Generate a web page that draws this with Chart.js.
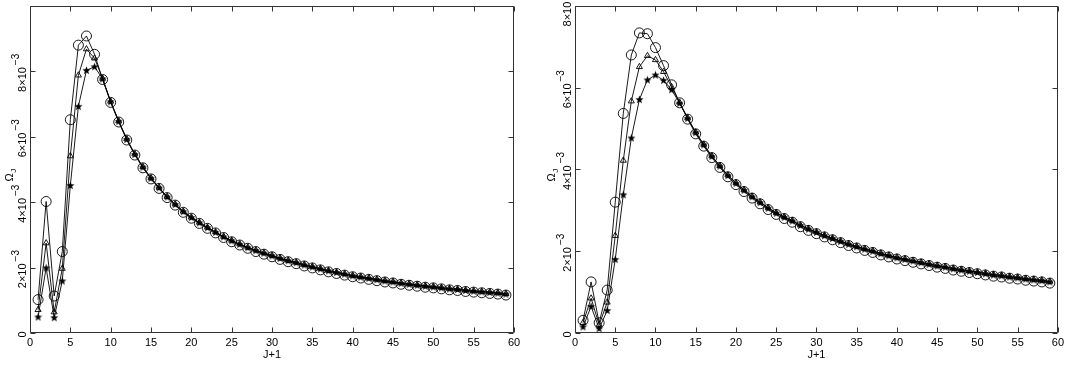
<!DOCTYPE html>
<html><head><meta charset="utf-8">
<script src="https://cdn.jsdelivr.net/npm/chart.js@4.4.1/dist/chart.umd.min.js"></script>
<style>
html,body{margin:0;padding:0;background:#fff;width:1067px;height:368px;overflow:hidden}
.p{position:absolute;top:0}
canvas{display:block}
</style></head><body>
<div class="p" style="left:0;width:540px;height:368px"><canvas id="c1" width="540" height="368"></canvas></div>
<div class="p" style="left:540px;width:527px;height:368px"><canvas id="c2" width="527" height="368"></canvas></div>
<script>
// x values: J+1
const jPlusOne = [1,2,3,4,5,6,7,8,9,10,11,12,13,14,15,16,17,18,19,20,21,22,23,24,25,26,27,28,29,30,
  31,32,33,34,35,36,37,38,39,40,41,42,43,44,45,46,47,48,49,50,51,52,53,54,55,56,57,58,59];

// Omega_J in units of 1e-3 — left panel
const leftCircles = [1.02,4.02,1.13,2.49,6.52,8.80,9.08,8.52,7.75,7.05,
  6.45,5.90,5.44,5.05,4.71,4.42,4.14,3.91,3.69,3.51,
  3.35,3.20,3.06,2.92,2.79,2.69,2.59,2.49,2.41,2.33,
  2.25,2.18,2.12,2.05,1.99,1.93,1.87,1.82,1.77,1.72,
  1.68,1.64,1.60,1.56,1.53,1.49,1.46,1.43,1.40,1.38,
  1.35,1.32,1.30,1.27,1.25,1.23,1.21,1.19,1.16];
const leftTriangles = [0.71,2.75,0.64,1.97,5.41,7.88,8.68,8.40,7.78,7.08,
  6.48,5.93,5.47,5.08,4.74,4.45,4.17,3.94,3.72,3.54,
  3.38,3.23,3.09,2.95,2.83,2.72,2.62,2.53,2.45,2.37,
  2.29,2.22,2.16,2.09,2.03,1.97,1.91,1.86,1.81,1.76,
  1.72,1.68,1.64,1.60,1.57,1.53,1.50,1.47,1.44,1.42,
  1.39,1.36,1.34,1.31,1.29,1.27,1.25,1.23,1.20];
const leftStars = [0.49,1.99,0.47,1.59,4.51,6.93,8.03,8.14,7.77,7.07,
  6.47,5.92,5.46,5.07,4.73,4.44,4.16,3.93,3.71,3.53,
  3.37,3.22,3.08,2.94,2.82,2.71,2.61,2.52,2.44,2.36,
  2.28,2.21,2.15,2.08,2.02,1.96,1.90,1.85,1.80,1.75,
  1.71,1.67,1.63,1.59,1.56,1.52,1.49,1.46,1.43,1.41,
  1.38,1.35,1.33,1.30,1.28,1.26,1.24,1.22,1.19];

// right panel
const rightCircles = [0.31,1.25,0.25,1.05,3.20,5.37,6.80,7.34,7.32,6.98,
  6.54,6.07,5.63,5.23,4.87,4.57,4.29,4.05,3.82,3.63,
  3.46,3.30,3.16,3.02,2.90,2.80,2.71,2.60,2.51,2.43,
  2.35,2.28,2.21,2.14,2.08,2.02,1.97,1.91,1.86,1.81,
  1.77,1.73,1.69,1.65,1.61,1.58,1.54,1.51,1.48,1.45,
  1.42,1.39,1.37,1.34,1.32,1.29,1.27,1.25,1.22];
const rightTriangles = [0.25,0.85,0.20,0.75,2.38,4.22,5.67,6.51,6.78,6.68,
  6.39,6.02,5.64,5.26,4.91,4.61,4.33,4.09,3.86,3.67,
  3.50,3.34,3.20,3.06,2.94,2.84,2.75,2.64,2.55,2.47,
  2.39,2.32,2.25,2.18,2.12,2.06,2.01,1.95,1.90,1.85,
  1.81,1.77,1.73,1.69,1.65,1.62,1.58,1.55,1.52,1.49,
  1.46,1.43,1.41,1.38,1.36,1.33,1.31,1.29,1.26];
const rightStars = [0.15,0.65,0.11,0.55,1.80,3.38,4.77,5.71,6.19,6.31,
  6.18,5.95,5.62,5.25,4.90,4.60,4.32,4.08,3.85,3.66,
  3.49,3.33,3.19,3.05,2.93,2.83,2.74,2.63,2.54,2.46,
  2.38,2.31,2.24,2.17,2.11,2.05,2.00,1.94,1.89,1.84,
  1.80,1.76,1.72,1.68,1.64,1.61,1.57,1.54,1.51,1.48,
  1.45,1.42,1.40,1.37,1.35,1.32,1.30,1.28,1.25];

// ticks
const xTickValues = [0,5,10,15,20,25,30,35,40,45,50,55,60];
const leftYTickValues = [0,2,4,6,8,10];
const leftYTickLabels = ['0','2×10^−3','4×10^−3','6×10^−3','8×10^−3',''];
const rightYTickValues = [0,2,4,6,8];
const rightYTickLabels = ['0','2×10^−3','4×10^−3','6×10^−3','8×10^−3'];
const xTitle = 'J+1';
const yTitleMain = 'Ω';
const yTitleSub = 'J';

const FONT = '"Liberation Sans", Arial, Helvetica, sans-serif';

function makeStar(){
  const s = 9, c = document.createElement('canvas');
  c.width = s; c.height = s;
  const g = c.getContext('2d');
  g.fillStyle = '#000';
  g.beginPath();
  const R = 4.3, r = 1.8, cx = s/2, cy = s/2 + 0.3;
  for (let i = 0; i < 10; i++){
    const a = -Math.PI/2 + i*Math.PI/5;
    const rr = i % 2 === 0 ? R : r;
    const px = cx + rr*Math.cos(a), py = cy + rr*Math.sin(a);
    if (i === 0) g.moveTo(px, py); else g.lineTo(px, py);
  }
  g.closePath(); g.fill();
  return c;
}
const starImg = makeStar();

function pts(ys){ return jPlusOne.map((x,i)=>({x:x, y:ys[i]})); }

function drawLabel(ctx, text, x, y){
  const parts = text.split('^');
  const base = parts[0], sup = parts[1] || '';
  ctx.save();
  ctx.translate(x, y);
  ctx.rotate(-Math.PI/2);
  ctx.textAlign = 'left';
  ctx.textBaseline = 'alphabetic';
  ctx.font = '11px ' + FONT;
  const w1 = ctx.measureText(base).width;
  ctx.font = '10px ' + FONT;
  const gap = sup ? 2 : 0;
  const w2 = sup ? ctx.measureText(sup).width : 0;
  const x0 = -(w1 + gap + w2)/2;
  ctx.fillStyle = '#000';
  ctx.font = '11px ' + FONT;
  ctx.fillText(base, x0, 0);
  if (sup){ ctx.font = '10px ' + FONT; ctx.fillText(sup, x0 + w1 + gap, -7); }
  ctx.restore();
}

function framePlugin(yLabels, titleOffset){
  return {
    id: 'frame',
    afterDraw(chart){
      const ctx = chart.ctx, a = chart.chartArea;
      const xs = chart.scales.x, ys = chart.scales.y;
      ctx.save();
      ctx.strokeStyle = '#333';
      ctx.lineWidth = 1;
      const L = Math.round(a.left)+0.5, R = Math.round(a.right)-0.5;
      const T = Math.round(a.top)+0.5, B = Math.round(a.bottom)-0.5;
      ctx.beginPath();
      ctx.rect(L, T, R-L, B-T);
      const tl = 5;
      xs.ticks.forEach(t=>{
        const px = Math.round(xs.getPixelForValue(t.value))+0.5;
        ctx.moveTo(px, B); ctx.lineTo(px, B-tl);
        ctx.moveTo(px, T); ctx.lineTo(px, T+tl);
      });
      ys.ticks.forEach(t=>{
        const py = Math.round(ys.getPixelForValue(t.value))+0.5;
        ctx.moveTo(L, py); ctx.lineTo(L+tl, py);
        ctx.moveTo(R, py); ctx.lineTo(R-tl, py);
      });
      ctx.stroke();
      // y tick labels
      ys.ticks.forEach((t,i)=>{
        const py = ys.getPixelForValue(t.value);
        if (yLabels[i]) drawLabel(ctx, yLabels[i], a.left - 4, py + 1.5);
      });
      // y title
      ctx.save();
      const ty = (a.top + a.bottom)/2 + 6;
      ctx.translate(a.left - titleOffset, ty);
      ctx.rotate(-Math.PI/2);
      ctx.fillStyle = '#000';
      ctx.textBaseline = 'alphabetic';
      ctx.textAlign = 'left';
      ctx.font = '11px ' + FONT;
      const wm = ctx.measureText(yTitleMain).width;
      ctx.font = '8px ' + FONT;
      const ws = ctx.measureText(yTitleSub).width;
      const x0 = -(wm+ws)/2;
      ctx.font = '11px ' + FONT;
      ctx.fillText(yTitleMain, x0, 0);
      ctx.font = '8px ' + FONT;
      ctx.fillText(yTitleSub, x0 + wm + 0.5, 3);
      ctx.restore();
      // x title
      ctx.fillStyle = '#000';
      ctx.font = '11px ' + FONT;
      ctx.textAlign = 'center';
      ctx.textBaseline = 'middle';
      ctx.fillText(xTitle, (a.left + a.right)/2, 355);
      ctx.restore();
    }
  };
}

function makeChart(id, circles, triangles, stars, yMax, yTickValues, yLabels, yAxisWidth, padRight, titleOffset){
  const common = {showLine:true, borderColor:'#000', borderWidth:0.9, pointBorderColor:'#000', pointBorderWidth:0.9, fill:false, tension:0};
  return new Chart(document.getElementById(id), {
    type: 'scatter',
    data: {
      datasets: [
        Object.assign({label:'circles', data: pts(circles), pointStyle:'circle', pointRadius:5, pointBackgroundColor:'rgba(0,0,0,0)'}, common),
        Object.assign({label:'triangles', data: pts(triangles), pointStyle:'triangle', pointRadius:3.5, pointBackgroundColor:'rgba(0,0,0,0)'}, common),
        Object.assign({label:'stars', data: pts(stars), pointStyle:starImg, pointRadius:4}, common)
      ]
    },
    options: {
      responsive:false, animation:false, devicePixelRatio:1,
      layout:{padding:{top:1, right:padRight, left:0, bottom:0}},
      plugins:{legend:{display:false}, tooltip:{enabled:false}},
      scales:{
        x:{type:'linear', min:0, max:60,
          ticks:{color:'#000', font:{family:FONT, size:11}, padding:3, maxRotation:0, autoSkip:false},
          grid:{display:false, drawTicks:false}, border:{display:false},
          afterBuildTicks(s){ s.ticks = xTickValues.map(v=>({value:v})); },
          afterFit(s){ s.height = 35; }},
        y:{type:'linear', min:0, max:yMax,
          ticks:{display:false},
          grid:{display:false, drawTicks:false}, border:{display:false},
          afterBuildTicks(s){ s.ticks = yTickValues.map(v=>({value:v})); },
          afterFit(s){ s.width = yAxisWidth; }}
      }
    },
    plugins:[framePlugin(yLabels, titleOffset)]
  });
}

makeChart('c1', leftCircles, leftTriangles, leftStars, 10, leftYTickValues, leftYTickLabels, 30, 26, 17);
makeChart('c2', rightCircles, rightTriangles, rightStars, 8, rightYTickValues, rightYTickLabels, 35, 8, 20);
</script>
</body></html>
